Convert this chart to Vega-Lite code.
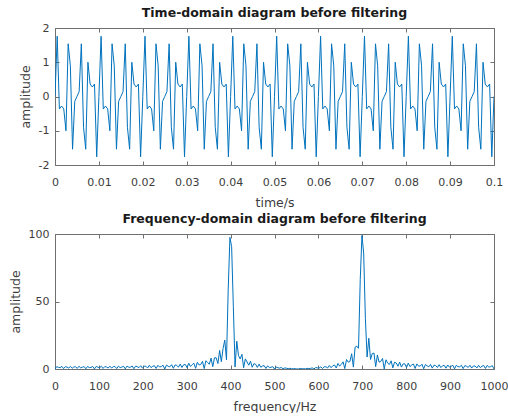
{
"$schema": "https://vega.github.io/schema/vega-lite/v6.json",
"background": "white",
"padding": {"left": 8, "top": 6, "right": 0, "bottom": 0},
"datasets": {
"time": [
{"t":0,"a":0},{"t":0.0005,"a":1.76},{"t":0.001,"a":-0.363},{"t":0.0015,"a":-0.279},{"t":0.002,"a":-0.363},{"t":0.0025,"a":-1},{"t":0.003,"a":1.539},{"t":0.0035,"a":0.897},{"t":0.004,"a":-1.539},{"t":0.0045,"a":-0.142},{"t":0.005,"a":0},{"t":0.0055,"a":0.142},{"t":0.006,"a":1.539},{"t":0.0065,"a":-0.897},{"t":0.007,"a":-1.539},{"t":0.0075,"a":1},{"t":0.008,"a":0.363},{"t":0.0085,"a":0.279},{"t":0.009,"a":0.363},{"t":0.0095,"a":-1.76},
{"t":0.01,"a":0},{"t":0.0105,"a":1.76},{"t":0.011,"a":-0.363},{"t":0.0115,"a":-0.279},{"t":0.012,"a":-0.363},{"t":0.0125,"a":-1},{"t":0.013,"a":1.539},{"t":0.0135,"a":0.897},{"t":0.014,"a":-1.539},{"t":0.0145,"a":-0.142},{"t":0.015,"a":0},{"t":0.0155,"a":0.142},{"t":0.016,"a":1.539},{"t":0.0165,"a":-0.897},{"t":0.017,"a":-1.539},{"t":0.0175,"a":1},{"t":0.018,"a":0.363},{"t":0.0185,"a":0.279},{"t":0.019,"a":0.363},{"t":0.0195,"a":-1.76},
{"t":0.02,"a":0},{"t":0.0205,"a":1.76},{"t":0.021,"a":-0.363},{"t":0.0215,"a":-0.279},{"t":0.022,"a":-0.363},{"t":0.0225,"a":-1},{"t":0.023,"a":1.539},{"t":0.0235,"a":0.897},{"t":0.024,"a":-1.539},{"t":0.0245,"a":-0.142},{"t":0.025,"a":0},{"t":0.0255,"a":0.142},{"t":0.026,"a":1.539},{"t":0.0265,"a":-0.897},{"t":0.027,"a":-1.539},{"t":0.0275,"a":1},{"t":0.028,"a":0.363},{"t":0.0285,"a":0.279},{"t":0.029,"a":0.363},{"t":0.0295,"a":-1.76},
{"t":0.03,"a":0},{"t":0.0305,"a":1.76},{"t":0.031,"a":-0.363},{"t":0.0315,"a":-0.279},{"t":0.032,"a":-0.363},{"t":0.0325,"a":-1},{"t":0.033,"a":1.539},{"t":0.0335,"a":0.897},{"t":0.034,"a":-1.539},{"t":0.0345,"a":-0.142},{"t":0.035,"a":0},{"t":0.0355,"a":0.142},{"t":0.036,"a":1.539},{"t":0.0365,"a":-0.897},{"t":0.037,"a":-1.539},{"t":0.0375,"a":1},{"t":0.038,"a":0.363},{"t":0.0385,"a":0.279},{"t":0.039,"a":0.363},{"t":0.0395,"a":-1.76},
{"t":0.04,"a":0},{"t":0.0405,"a":1.76},{"t":0.041,"a":-0.363},{"t":0.0415,"a":-0.279},{"t":0.042,"a":-0.363},{"t":0.0425,"a":-1},{"t":0.043,"a":1.539},{"t":0.0435,"a":0.897},{"t":0.044,"a":-1.539},{"t":0.0445,"a":-0.142},{"t":0.045,"a":0},{"t":0.0455,"a":0.142},{"t":0.046,"a":1.539},{"t":0.0465,"a":-0.897},{"t":0.047,"a":-1.539},{"t":0.0475,"a":1},{"t":0.048,"a":0.363},{"t":0.0485,"a":0.279},{"t":0.049,"a":0.363},{"t":0.0495,"a":-1.76},
{"t":0.05,"a":0},{"t":0.0505,"a":1.76},{"t":0.051,"a":-0.363},{"t":0.0515,"a":-0.279},{"t":0.052,"a":-0.363},{"t":0.0525,"a":-1},{"t":0.053,"a":1.539},{"t":0.0535,"a":0.897},{"t":0.054,"a":-1.539},{"t":0.0545,"a":-0.142},{"t":0.055,"a":0},{"t":0.0555,"a":0.142},{"t":0.056,"a":1.539},{"t":0.0565,"a":-0.897},{"t":0.057,"a":-1.539},{"t":0.0575,"a":1},{"t":0.058,"a":0.363},{"t":0.0585,"a":0.279},{"t":0.059,"a":0.363},{"t":0.0595,"a":-1.76},
{"t":0.06,"a":0},{"t":0.0605,"a":1.76},{"t":0.061,"a":-0.363},{"t":0.0615,"a":-0.279},{"t":0.062,"a":-0.363},{"t":0.0625,"a":-1},{"t":0.063,"a":1.539},{"t":0.0635,"a":0.897},{"t":0.064,"a":-1.539},{"t":0.0645,"a":-0.142},{"t":0.065,"a":0},{"t":0.0655,"a":0.142},{"t":0.066,"a":1.539},{"t":0.0665,"a":-0.897},{"t":0.067,"a":-1.539},{"t":0.0675,"a":1},{"t":0.068,"a":0.363},{"t":0.0685,"a":0.279},{"t":0.069,"a":0.363},{"t":0.0695,"a":-1.76},
{"t":0.07,"a":0},{"t":0.0705,"a":1.76},{"t":0.071,"a":-0.363},{"t":0.0715,"a":-0.279},{"t":0.072,"a":-0.363},{"t":0.0725,"a":-1},{"t":0.073,"a":1.539},{"t":0.0735,"a":0.897},{"t":0.074,"a":-1.539},{"t":0.0745,"a":-0.142},{"t":0.075,"a":0},{"t":0.0755,"a":0.142},{"t":0.076,"a":1.539},{"t":0.0765,"a":-0.897},{"t":0.077,"a":-1.539},{"t":0.0775,"a":1},{"t":0.078,"a":0.363},{"t":0.0785,"a":0.279},{"t":0.079,"a":0.363},{"t":0.0795,"a":-1.76},
{"t":0.08,"a":0},{"t":0.0805,"a":1.76},{"t":0.081,"a":-0.363},{"t":0.0815,"a":-0.279},{"t":0.082,"a":-0.363},{"t":0.0825,"a":-1},{"t":0.083,"a":1.539},{"t":0.0835,"a":0.897},{"t":0.084,"a":-1.539},{"t":0.0845,"a":-0.142},{"t":0.085,"a":0},{"t":0.0855,"a":0.142},{"t":0.086,"a":1.539},{"t":0.0865,"a":-0.897},{"t":0.087,"a":-1.539},{"t":0.0875,"a":1},{"t":0.088,"a":0.363},{"t":0.0885,"a":0.279},{"t":0.089,"a":0.363},{"t":0.0895,"a":-1.76},
{"t":0.09,"a":0},{"t":0.0905,"a":1.76},{"t":0.091,"a":-0.363},{"t":0.0915,"a":-0.279},{"t":0.092,"a":-0.363},{"t":0.0925,"a":-1},{"t":0.093,"a":1.539},{"t":0.0935,"a":0.897},{"t":0.094,"a":-1.539},{"t":0.0945,"a":-0.142},{"t":0.095,"a":0},{"t":0.0955,"a":0.142},{"t":0.096,"a":1.539},{"t":0.0965,"a":-0.897},{"t":0.097,"a":-1.539},{"t":0.0975,"a":1},{"t":0.098,"a":0.363},{"t":0.0985,"a":0.279},{"t":0.099,"a":0.363},{"t":0.0995,"a":-1.76},
{"t":0.1,"a":0}
],
"freq": [
{"f":0,"m":0},{"f":3.91,"m":1.78},{"f":7.81,"m":1.2},{"f":11.72,"m":0.97},{"f":15.63,"m":1.94},{"f":19.53,"m":0.28},{"f":23.44,"m":1.68},{"f":27.34,"m":1.43},{"f":31.25,"m":0.73},{"f":35.16,"m":1.9},
{"f":39.06,"m":0.55},{"f":42.97,"m":1.54},{"f":46.88,"m":1.59},{"f":50.78,"m":0.47},{"f":54.69,"m":2.02},{"f":58.59,"m":0.82},{"f":62.5,"m":1.37},{"f":66.41,"m":1.77},{"f":70.31,"m":0.19},{"f":74.22,"m":1.89},
{"f":78.13,"m":1.09},{"f":82.03,"m":1.17},{"f":85.94,"m":1.89},{"f":89.84,"m":0.09},{"f":93.75,"m":1.89},{"f":97.66,"m":1.35},{"f":101.56,"m":0.95},{"f":105.47,"m":2.01},{"f":109.38,"m":0.4},{"f":113.28,"m":1.76},
{"f":117.19,"m":1.59},{"f":121.09,"m":0.7},{"f":125,"m":2.08},{"f":128.91,"m":0.71},{"f":132.81,"m":1.7},{"f":136.72,"m":1.83},{"f":140.63,"m":0.32},{"f":144.53,"m":2.13},{"f":148.44,"m":1.03},{"f":152.34,"m":1.47},
{"f":156.25,"m":2.04},{"f":160.16,"m":0.11},{"f":164.06,"m":2.16},{"f":167.97,"m":1.35},{"f":171.88,"m":1.28},{"f":175.78,"m":2.25},{"f":179.69,"m":0.23},{"f":183.59,"m":2.14},{"f":187.5,"m":1.69},{"f":191.41,"m":1.03},
{"f":195.31,"m":2.43},{"f":199.22,"m":0.62},{"f":203.13,"m":2.09},{"f":207.03,"m":2.05},{"f":210.94,"m":0.74},{"f":214.84,"m":2.73},{"f":218.75,"m":1.02},{"f":222.66,"m":2},{"f":226.56,"m":2.42},{"f":230.47,"m":0.4},
{"f":234.38,"m":2.76},{"f":238.28,"m":1.46},{"f":242.19,"m":1.84},{"f":246.09,"m":2.79},{"f":250,"m":0},{"f":253.91,"m":2.89},{"f":257.81,"m":1.99},{"f":261.72,"m":1.64},{"f":265.63,"m":3.21},{"f":269.53,"m":0.5},
{"f":273.44,"m":3.02},{"f":277.34,"m":2.61},{"f":281.25,"m":1.37},{"f":285.16,"m":3.68},{"f":289.06,"m":1.11},{"f":292.97,"m":3.14},{"f":296.88,"m":3.34},{"f":300.78,"m":1},{"f":304.69,"m":4.25},{"f":308.59,"m":1.89},
{"f":312.5,"m":3.24},{"f":316.41,"m":4.28},{"f":320.31,"m":0.48},{"f":324.22,"m":4.98},{"f":328.13,"m":3},{"f":332.03,"m":3.36},{"f":335.94,"m":5.66},{"f":339.84,"m":0.31},{"f":343.75,"m":6.12},{"f":347.66,"m":4.75},
{"f":351.56,"m":3.57},{"f":355.47,"m":8.04},{"f":359.38,"m":1.73},{"f":363.28,"m":8.29},{"f":367.19,"m":8.29},{"f":371.09,"m":4.06},{"f":375,"m":13.74},{"f":378.91,"m":5.43},{"f":382.81,"m":15.18},{"f":386.72,"m":21.41},
{"f":390.63,"m":6.8},{"f":394.53,"m":58.6},{"f":398.44,"m":97.5},{"f":402.34,"m":90.6},{"f":406.25,"m":46.1},{"f":410.16,"m":1.49},{"f":414.06,"m":20.6},{"f":417.97,"m":9.87},{"f":421.88,"m":7.48},{"f":425.78,"m":10.88},
{"f":429.69,"m":0.94},{"f":433.59,"m":7.49},{"f":437.5,"m":5.18},{"f":441.41,"m":2.81},{"f":445.31,"m":5.79},{"f":449.22,"m":1.28},{"f":453.13,"m":3.94},{"f":457.03,"m":3.47},{"f":460.94,"m":1.17},{"f":464.84,"m":3.62},
{"f":468.75,"m":1.29},{"f":472.66,"m":2.23},{"f":476.56,"m":2.47},{"f":480.47,"m":0.38},{"f":484.38,"m":2.34},{"f":488.28,"m":1.14},{"f":492.19,"m":1.28},{"f":496.09,"m":1.75},{"f":500,"m":0},{"f":503.91,"m":1.46},
{"f":507.81,"m":0.91},{"f":511.72,"m":0.65},{"f":515.63,"m":1.13},{"f":519.53,"m":0.14},{"f":523.44,"m":0.79},{"f":527.34,"m":0.57},{"f":531.25,"m":0.26},{"f":535.16,"m":0.54},{"f":539.06,"m":0.11},{"f":542.97,"m":0.25},
{"f":546.88,"m":0.22},{"f":550.78,"m":0.05},{"f":554.69,"m":0.04},{"f":558.59,"m":0.43},{"f":562.5,"m":0.14},{"f":566.41,"m":0.26},{"f":570.31,"m":0.04},{"f":574.22,"m":0.48},{"f":578.13,"m":0.35},{"f":582.03,"m":0.44},
{"f":585.94,"m":0.83},{"f":589.84,"m":0.05},{"f":593.75,"m":1.05},{"f":597.66,"m":0.85},{"f":601.56,"m":0.68},{"f":605.47,"m":1.56},{"f":609.38,"m":0.35},{"f":613.28,"m":1.66},{"f":617.19,"m":1.65},{"f":621.09,"m":0.78},
{"f":625,"m":2.57},{"f":628.91,"m":0.97},{"f":632.81,"m":2.4},{"f":636.72,"m":2.93},{"f":640.63,"m":0.72},{"f":644.53,"m":4.1},{"f":648.44,"m":2.18},{"f":652.34,"m":3.42},{"f":656.25,"m":5.29},{"f":660.16,"m":0.31},
{"f":664.06,"m":7.02},{"f":667.97,"m":5.04},{"f":671.88,"m":5.58},{"f":675.78,"m":11.31},{"f":679.69,"m":1.4},{"f":683.59,"m":16.19},{"f":687.5,"m":16.96},{"f":691.41,"m":15.31},{"f":695.31,"m":66.2},{"f":699.22,"m":98.9},
{"f":703.13,"m":85.9},{"f":707.03,"m":37.5},{"f":710.94,"m":8.86},{"f":714.84,"m":22.8},{"f":718.75,"m":7.05},{"f":722.66,"m":11.45},{"f":726.56,"m":11.8},{"f":730.47,"m":1.72},{"f":734.38,"m":10.4},{"f":738.28,"m":5.04},
{"f":742.19,"m":5.65},{"f":746.09,"m":7.78},{"f":750,"m":0},{"f":753.91,"m":6.82},{"f":757.81,"m":4.33},{"f":761.72,"m":3.35},{"f":765.63,"m":6.06},{"f":769.53,"m":0.85},{"f":773.44,"m":5},{"f":777.34,"m":4.47},
{"f":781.25,"m":2.03},{"f":785.16,"m":5.06},{"f":789.06,"m":1.43},{"f":792.97,"m":3.81},{"f":796.88,"m":3.84},{"f":800.78,"m":1.1},{"f":804.69,"m":4.35},{"f":808.59,"m":1.82},{"f":812.5,"m":2.94},{"f":816.41,"m":3.68},
{"f":820.31,"m":0.39},{"f":824.22,"m":3.77},{"f":828.13,"m":2.13},{"f":832.03,"m":2.22},{"f":835.94,"m":3.52},{"f":839.84,"m":0.18},{"f":843.75,"m":3.29},{"f":847.66,"m":2.36},{"f":851.56,"m":1.62},{"f":855.47,"m":3.38},
{"f":859.38,"m":0.65},{"f":863.28,"m":2.84},{"f":867.19,"m":2.52},{"f":871.09,"m":1.09},{"f":875,"m":3.19},{"f":878.91,"m":1.06},{"f":882.81,"m":2.4},{"f":886.72,"m":2.64},{"f":890.63,"m":0.6},{"f":894.53,"m":2.99},
{"f":898.44,"m":1.41},{"f":902.34,"m":1.99},{"f":906.25,"m":2.72},{"f":910.16,"m":0.14},{"f":914.06,"m":2.78},{"f":917.97,"m":1.72},{"f":921.88,"m":1.59},{"f":925.78,"m":2.76},{"f":929.69,"m":0.28},{"f":933.59,"m":2.55},
{"f":937.5,"m":1.98},{"f":941.41,"m":1.19},{"f":945.31,"m":2.76},{"f":949.22,"m":0.68},{"f":953.13,"m":2.29},{"f":957.03,"m":2.21},{"f":960.94,"m":0.79},{"f":964.84,"m":2.72},{"f":968.75,"m":1.04},{"f":972.66,"m":2.01},
{"f":976.56,"m":2.62},{"f":980.47,"m":0.4},{"f":984.38,"m":2.65},{"f":988.28,"m":1.4},{"f":992.19,"m":1.71},{"f":996.09,"m":2.54},{"f":1000,"m":0}
]
},
"spacing": 69,
"bounds": "flush",
"vconcat": [
{
"width": 439, "height": 137,
"title": {"text": "Time-domain diagram before filtering"},
"layer": [
{"data": {"name": "time"},
 "mark": {"type": "line", "color": "#0072BD", "strokeWidth": 1, "clip": true},
 "encoding": {
  "x": {"field": "t", "type": "quantitative", "scale": {"domain": [0, 0.1], "nice": false, "zero": false},
        "axis": {"title": "time/s", "values": [0,0.01,0.02,0.03,0.04,0.05,0.06,0.07,0.08,0.09,0.1], "labelExpr": "'' + datum.value"}},
  "y": {"field": "a", "type": "quantitative", "scale": {"domain": [-2, 2], "nice": false, "zero": false},
        "axis": {"title": "amplitude", "values": [-2,-1,0,1,2], "labelExpr": "'' + datum.value"}}
 }},
{"data": {"name": "time"},
 "mark": {"type": "line", "opacity": 0},
 "encoding": {
  "x": {"field": "t", "type": "quantitative", "scale": {"domain": [0, 0.1], "nice": false, "zero": false},
        "axis": {"orient": "top", "title": null, "labels": false, "values": [0,0.01,0.02,0.03,0.04,0.05,0.06,0.07,0.08,0.09,0.1]}},
  "y": {"field": "a", "type": "quantitative", "scale": {"domain": [-2, 2], "nice": false, "zero": false},
        "axis": {"orient": "right", "title": null, "labels": false, "values": [-2,-1,0,1,2]}}
 }}
],
"resolve": {"scale": {"x": "independent", "y": "independent"}}
},
{
"width": 439, "height": 135,
"title": {"text": "Frequency-domain diagram before filtering"},
"layer": [
{"data": {"name": "freq"},
 "mark": {"type": "line", "color": "#0072BD", "strokeWidth": 1, "clip": true},
 "encoding": {
  "x": {"field": "f", "type": "quantitative", "scale": {"domain": [0, 1000], "nice": false, "zero": false},
        "axis": {"title": "frequency/Hz", "values": [0,100,200,300,400,500,600,700,800,900,1000], "labelExpr": "'' + datum.value"}},
  "y": {"field": "m", "type": "quantitative", "scale": {"domain": [0, 100], "nice": false, "zero": false},
        "axis": {"title": "amplitude", "values": [0,50,100], "labelExpr": "'' + datum.value"}}
 }},
{"data": {"name": "freq"},
 "mark": {"type": "line", "opacity": 0},
 "encoding": {
  "x": {"field": "f", "type": "quantitative", "scale": {"domain": [0, 1000], "nice": false, "zero": false},
        "axis": {"orient": "top", "title": null, "labels": false, "values": [0,100,200,300,400,500,600,700,800,900,1000]}},
  "y": {"field": "m", "type": "quantitative", "scale": {"domain": [0, 100], "nice": false, "zero": false},
        "axis": {"orient": "right", "title": null, "labels": false, "values": [0,50,100]}}
 }}
],
"resolve": {"scale": {"x": "independent", "y": "independent"}}
}
],
"config": {
 "font": "DejaVu Sans",
 "view": {"stroke": "#707070", "strokeWidth": 1},
 "axis": {"grid": false, "domainColor": "#707070", "domainWidth": 1, "tickColor": "#707070", "tickSize": -4, "tickWidth": 1,
          "labelFont": "DejaVu Sans", "labelFontSize": 11, "labelColor": "#3c3c3c",
          "titleFont": "DejaVu Sans", "titleFontSize": 12.5, "titleFontWeight": "normal", "titleColor": "#3c3c3c",
          "labelFlush": false, "labelOverlap": false},
 "axisX": {"labelPadding": 15, "titlePadding": 9},
 "axisY": {"labelPadding": 10, "titlePadding": 6},
 "title": {"font": "DejaVu Sans", "fontSize": 12.5, "fontWeight": "bold", "color": "#1a1a1a", "offset": 3, "baseline": "alphabetic", "anchor": "middle"}
}
}
